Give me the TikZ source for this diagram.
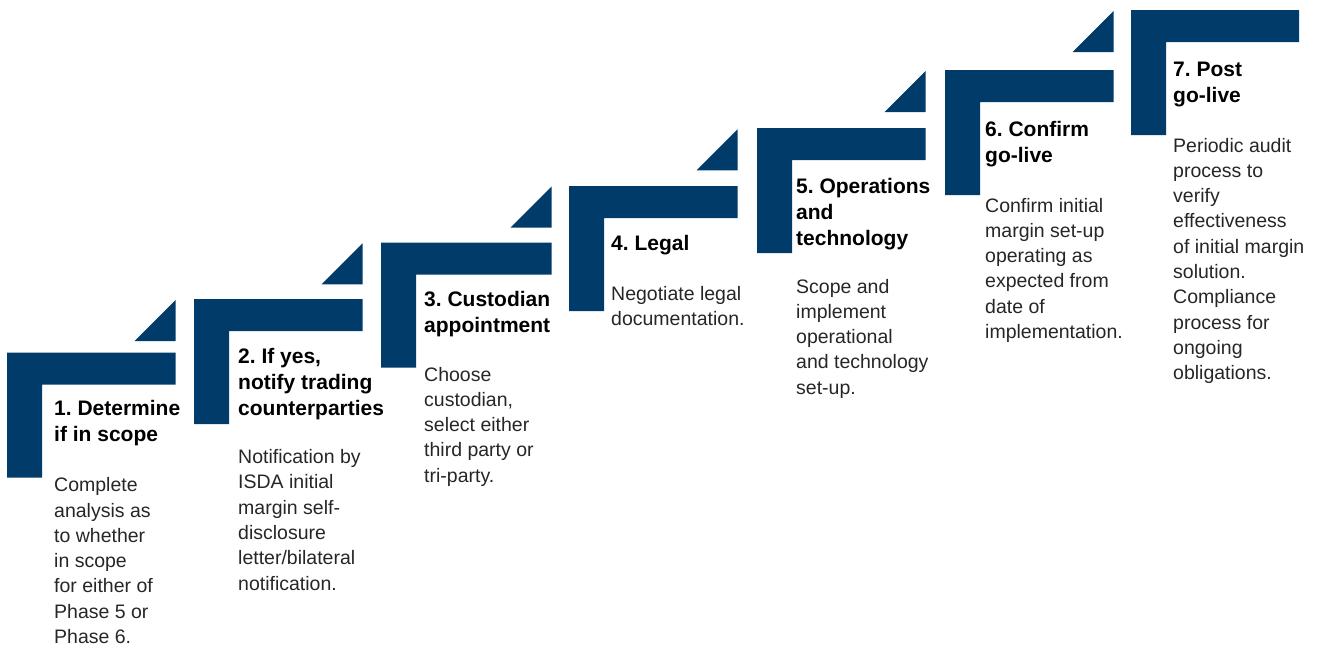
\documentclass[tikz,border=0pt]{standalone}
\usepackage{fontspec}
\setmainfont{Liberation Sans}
\frenchspacing
\definecolor{navy}{RGB}{0,59,106}
\definecolor{bodygray}{RGB}{38,38,38}

% one stair step: L-shaped bracket given by left, top and right edge
\newcommand\stairbracket[3]{%
  \fill[stepfill] (#1,#2) -- (#3,#2) -- (#3,#2+32) -- (#1+35,#2+32)
    -- (#1+35,#2+125) -- (#1,#2+125) -- cycle;}
% small right triangle leading up to the next step: right edge, top
\newcommand\stairwedge[2]{%
  \fill[stepfill] (#1-41,#2+41) -- (#1,#2) -- (#1,#2+41) -- cycle;}
% left-aligned block of hand-broken lines, baseline at the first line
\newcommand\steplines[1]{\parbox[t]{240pt}{\raggedright\frenchspacing #1}}

\tikzset{
  stepfill/.style={fill=navy},
  headtext/.style={anchor=base west, inner sep=0pt,
    font=\bfseries\fontsize{21}{26}\selectfont, text=black},
  bodytext/.style={anchor=base west, inner sep=0pt,
    font=\fontsize{19.5}{25.3}\selectfont, text=bodygray},
}

\begin{document}
\begin{tikzpicture}[x=1pt,y=-1pt]
\useasboundingbox (0,0) rectangle (1317,646);

% brackets
\stairbracket{7}{352.7}{175.7}
\stairbracket{194}{299}{362.5}
\stairbracket{381}{242.7}{551.5}
\stairbracket{569}{186}{737.5}
\stairbracket{757}{128}{925.5}
\stairbracket{945}{70}{1113.5}
\stairbracket{1131}{10}{1299}

% wedges between steps
\stairwedge{175.7}{300}
\stairwedge{362.5}{243.3}
\stairwedge{551.5}{186.7}
\stairwedge{737.5}{129.3}
\stairwedge{925.5}{71}
\stairwedge{1113.5}{11}

% step 1
\node[headtext] (h1) at (54,415) {\steplines{1. Determine\\if in scope}};
\node[bodytext] (b1) at (54,491.7) {\steplines{Complete\\analysis as\\to whether\\in scope\\for either of\\Phase 5 or\\Phase 6.}};

% step 2
\node[headtext] (h2) at (238,363) {\steplines{2. If yes,\\notify trading\\counterparties}};
\node[bodytext] (b2) at (238,463.5) {\steplines{Notification by\\ISDA initial\\margin self-\\disclosure\\letter/bilateral\\notification.}};

% step 3
\node[headtext] (h3) at (424,306) {\steplines{3. Custodian\\appointment}};
\node[bodytext] (b3) at (424,381) {\steplines{Choose\\custodian,\\select either\\third party or\\tri-party.}};

% step 4
\node[headtext] (h4) at (611,250) {\steplines{4. Legal}};
\node[bodytext] (b4) at (611,300) {\steplines{Negotiate legal\\documentation.}};

% step 5
\node[headtext] (h5) at (796,193) {\steplines{5. Operations\\and\\technology}};
\node[bodytext] (b5) at (796,293) {\steplines{Scope and\\implement\\operational\\and technology\\set-up.}};

% step 6
\node[headtext] (h6) at (985,136) {\steplines{6. Confirm\\go-live}};
\node[bodytext] (b6) at (985,212) {\steplines{Confirm initial\\margin set-up\\operating as\\expected from\\date of\\implementation.}};

% step 7
\node[headtext] (h7) at (1173,76) {\steplines{7. Post\\go-live}};
\node[bodytext] (b7) at (1173,152) {\steplines{Periodic audit\\process to\\verify\\effectiveness\\of initial margin\\solution.\\Compliance\\process for\\ongoing\\obligations.}};
\end{tikzpicture}
\end{document}
